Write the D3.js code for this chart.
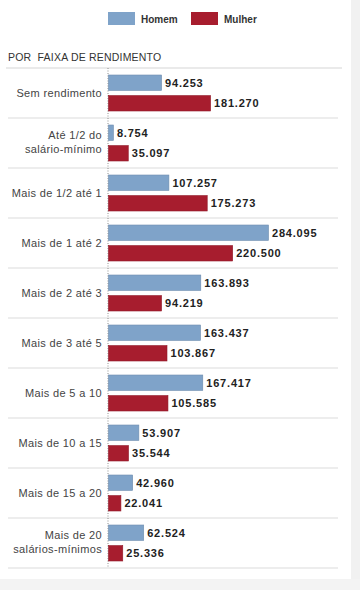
<!DOCTYPE html>
<html>
<head>
<meta charset="utf-8">
<script src="https://cdn.jsdelivr.net/npm/d3@7"></script>
<style>
  body { margin: 0; background: #fff; }
  svg { display: block; font-family: "Liberation Sans", Arial, sans-serif; }
</style>
</head>
<body>
<div id="chart"></div>
<script>
const categories = [
  ["Sem rendimento"],
  ["Até 1/2 do", "salário-mínimo"],
  ["Mais de 1/2 até 1"],
  ["Mais de 1 até 2"],
  ["Mais de 2 até 3"],
  ["Mais de 3 até 5"],
  ["Mais de 5 a 10"],
  ["Mais de 10 a 15"],
  ["Mais de 15 a 20"],
  ["Mais de 20", "salários-mínimos"]
];
const homem = [94253, 8754, 107257, 284095, 163893, 163437, 167417, 53907, 42960, 62524];
const mulher = [181270, 35097, 175273, 220500, 94219, 103867, 105585, 35544, 22041, 25336];
const seriesNames = ["Homem", "Mulher"];
const colors = ["#7fa3c9", "#a71d2e"];
const title = "POR  FAIXA DE RENDIMENTO";

const width = 360, height = 590;
const axisX = 108, chartTop = 68, rowH = 50;

const svg = d3.select("#chart").append("svg")
  .attr("width", width)
  .attr("height", height);

// frame edges
svg.append("rect").attr("x", 351).attr("y", 0).attr("width", 9).attr("height", height).attr("fill", "#f1f1f1");
svg.append("rect").attr("x", 0).attr("y", 579).attr("width", width).attr("height", 11).attr("fill", "#f3f3f3");

const x = d3.scaleLinear().domain([0, 284095]).range([axisX, axisX + 160]);
const y = d3.scaleBand().domain(d3.range(categories.length)).range([chartTop, chartTop + rowH * categories.length]);
const inner = d3.scaleBand().domain([0, 1]).range([7, rowH - 7]).paddingInner(0.25);

const fmt = d3.formatLocale({ decimal: ",", thousands: ".", grouping: [3], currency: ["", ""] }).format(",");

// legend
const legend = svg.append("g");
seriesNames.forEach((name, i) => {
  const gx = 108 + i * 83;
  legend.append("rect")
    .attr("x", gx).attr("y", 12).attr("width", 27).attr("height", 13)
    .attr("fill", colors[i]);
  legend.append("text")
    .attr("x", gx + 33).attr("y", 22.5)
    .attr("font-size", 10).attr("font-weight", "bold").attr("fill", "#333")
    .text(name);
});

svg.append("text")
  .attr("x", 8).attr("y", 61)
  .attr("font-size", 10.5).attr("letter-spacing", 0.2).attr("fill", "#333")
  .attr("style", "white-space:pre")
  .text(title);

// separators
svg.append("line").attr("x1", 6).attr("x2", 342).attr("y1", chartTop).attr("y2", chartTop)
  .attr("stroke", "#d6d6d6").attr("stroke-width", 1.2);
svg.selectAll(".sep")
  .data(d3.range(categories.length))
  .join("line")
  .attr("class", "sep")
  .attr("x1", 8).attr("x2", 338)
  .attr("y1", d => y(d) + rowH).attr("y2", d => y(d) + rowH)
  .attr("stroke", "#dcdcdc").attr("stroke-width", 1.2);

// dotted axis
svg.append("line")
  .attr("x1", axisX).attr("x2", axisX)
  .attr("y1", chartTop).attr("y2", chartTop + rowH * categories.length)
  .attr("stroke", "#777").attr("stroke-width", 0.8).attr("stroke-dasharray", "1,1.5");

const rows = svg.selectAll(".row")
  .data(categories)
  .join("g")
  .attr("class", "row")
  .attr("transform", (d, i) => `translate(0,${y(i)})`);

rows.append("text")
  .attr("x", axisX - 6)
  .attr("text-anchor", "end")
  .attr("font-size", 11)
  .attr("letter-spacing", 0.35)
  .attr("fill", "#444")
  .each(function (d) {
    const t = d3.select(this);
    const start = d.length === 1 ? 29 : 20.5;
    d.forEach((line, j) => {
      t.append("tspan").attr("x", axisX - 6).attr("y", start + j * 14).text(line);
    });
  });

[homem, mulher].forEach((vals, s) => {
  rows.append("rect")
    .attr("x", axisX + 0.5)
    .attr("y", inner(s))
    .attr("width", (d, i) => x(vals[i]) - axisX)
    .attr("height", inner.bandwidth())
    .attr("fill", colors[s])
    .attr("stroke", d3.color(colors[s]).darker(0.4))
    .attr("stroke-width", 0.6);
  rows.append("text")
    .attr("x", (d, i) => x(vals[i]) + 4)
    .attr("y", inner(s) + inner.bandwidth() / 2 + 4)
    .attr("font-size", 11)
    .attr("font-weight", "bold")
    .attr("letter-spacing", 0.8)
    .attr("fill", "#222")
    .text((d, i) => fmt(vals[i]));
});
</script>
</body>
</html>
